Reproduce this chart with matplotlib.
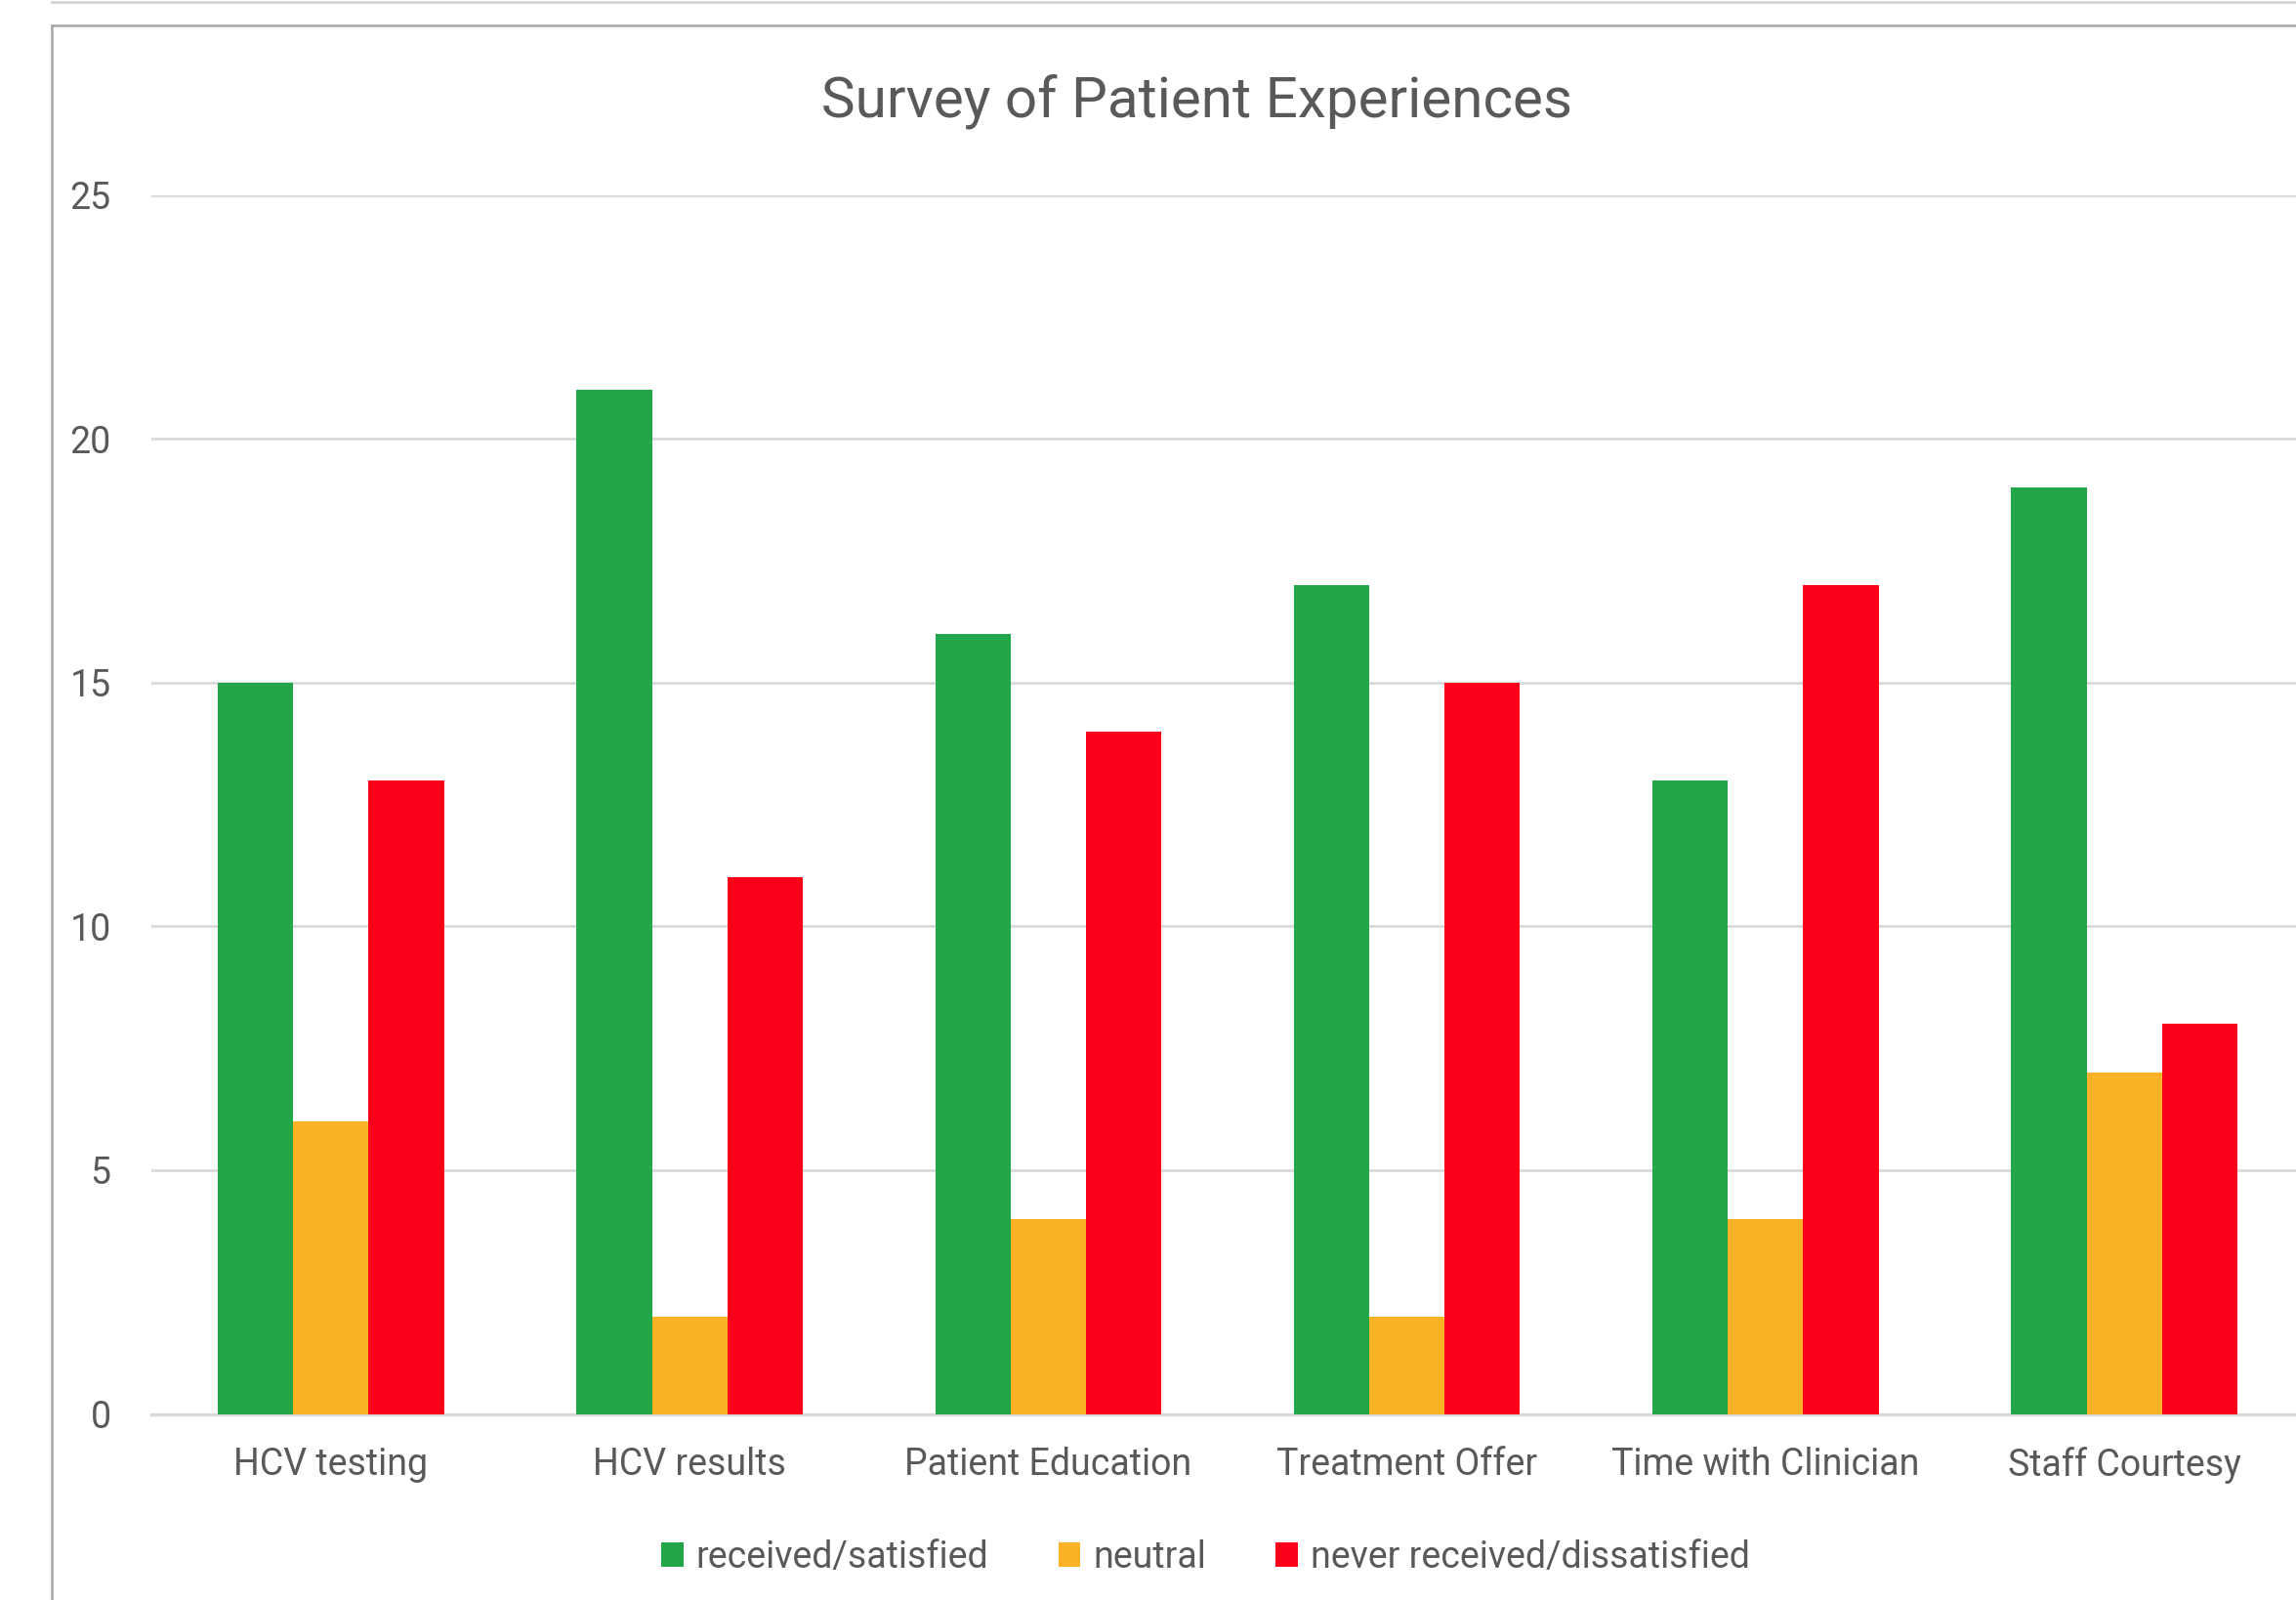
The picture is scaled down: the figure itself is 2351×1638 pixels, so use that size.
import matplotlib
matplotlib.use("Agg")
import matplotlib.pyplot as plt
import numpy as np
from matplotlib.lines import Line2D
from matplotlib.patches import Patch

categories = ["HCV testing", "HCV results", "Patient Education",
              "Treatment Offer", "Time with Clinician", "Staff Courtesy"]
satisfied = [15, 21, 16, 17, 13, 19]
neutral = [6, 2, 4, 2, 4, 7]
dissatisfied = [13, 11, 14, 15, 17, 8]
series_names = ["received/satisfied", "neutral", "never received/dissatisfied"]
colors = ["#22A64A", "#FCB226", "#FC0019"]
yticks = [0, 5, 10, 15, 20, 25]

plt.rcParams['font.family'] = ['Roboto', 'DejaVu Sans']
txt = "#595959"

W, H = 2351, 1638
fig = plt.figure(figsize=(W / 150, H / 150), dpi=150)
fig.patch.set_facecolor("white")

# display-ish frame is 1567 x 1092 (reference scaled by 1/1.5)
dw, dh = W / 1.5, H / 1.5
ax = fig.add_axes([103.5 / dw, 1 - 965 / dh, (1572.5 - 103.5) / dw, (965 - 133) / dh])

x = np.arange(len(categories))
w = 0.21
for i, (vals, name, c) in enumerate(zip([satisfied, neutral, dissatisfied], series_names, colors)):
    ax.bar(x + (i - 1) * w, vals, width=w, color=c, label=name, zorder=3)

ax.set_xlim(-0.5, len(categories) - 0.5)
ax.set_ylim(0, 25)
ax.set_yticks(yticks)
ax.set_xticks(x)
ax.set_xticklabels(categories)
ax.yaxis.grid(True, color="#D9D9D9", linewidth=1.3, zorder=0)
for s in ["top", "right", "left"]:
    ax.spines[s].set_visible(False)
ax.spines["bottom"].set_color("#D9D9D9")
ax.spines["bottom"].set_linewidth(1.6)
ax.tick_params(axis="both", length=0, colors=txt, labelsize=18)
ax.tick_params(axis="y", pad=20)
ax.tick_params(axis="x", pad=16)

fig.text(817 / dw, 1 - 69 / dh, "Survey of Patient Experiences", ha="center", va="center",
         fontsize=28, color=txt)

handles = [Patch(facecolor=c, edgecolor="none") for c in colors]
fig.legend(handles, series_names, loc="center", bbox_to_anchor=(823 / dw, 1 - 1063 / dh),
           ncol=3, frameon=False, fontsize=18, labelcolor=txt, handlelength=0.6,
           handleheight=0.65, handletextpad=0.35, columnspacing=1.9)

# chart area border (cropped) and top line
fig.add_artist(Line2D([35 / dw, 35 / dw], [0, 1 - 17 / dh], color="#A6A6A6", linewidth=1.2))
fig.add_artist(Line2D([35 / dw, 1], [1 - 17 / dh, 1 - 17 / dh], color="#A6A6A6", linewidth=1.2))
fig.add_artist(Line2D([35 / dw, 1], [1 - 1.2 / dh, 1 - 1.2 / dh], color="#D0D0D0", linewidth=1.2))

fig.savefig("out.png", dpi=150)
